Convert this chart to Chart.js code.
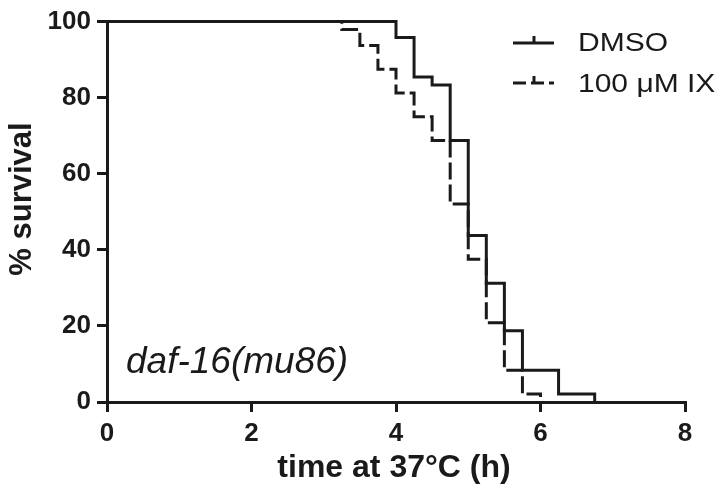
<!DOCTYPE html>
<html>
<head>
<meta charset="utf-8">
<script src="https://cdn.jsdelivr.net/npm/chart.js@4.4.1/dist/chart.umd.min.js"></script>
<style>
  html, body { margin: 0; padding: 0; background: #fff; }
  #wrap { width: 721px; height: 491px; }
</style>
</head>
<body>
<div id="wrap"><canvas id="c" width="721" height="491"></canvas></div>
<script>
// Kaplan-Meier survival at 37°C, daf-16(mu86) worms
const dmsoTimes    = [0, 4, 4.25, 4.5, 4.75, 5, 5.25, 5.5, 5.75, 6.25, 6.75];
const dmsoSurvival = [100, 95.83, 85.42, 83.33, 68.75, 43.75, 31.25, 18.75, 8.33, 2.08, 0];
const ixTimes      = [0, 3.25, 3.5, 3.75, 4, 4.25, 4.5, 4.75, 5, 5.25, 5.5, 5.75, 6];
const ixSurvival   = [100, 97.92, 93.75, 87.5, 81.25, 75, 68.75, 52.08, 37.5, 20.83, 8.33, 2.08, 0];
const seriesLabels = ['DMSO', '100 μM IX'];
const xTickValues  = [0, 2, 4, 6, 8];
const yTickValues  = [0, 20, 40, 60, 80, 100];
const xTitle = 'time at 37°C (h)';
const yTitle = '% survival';
const strainLabel = 'daf-16(mu86)';

const INK = '#1a1a1a';
const FONT = '"Liberation Sans", Arial, sans-serif';
const DASH = [17, 5];

const toPoints = (xs, ys) => xs.map((x, i) => ({ x, y: ys[i] }));

// Text and legend drawn on top of the plot
const decorations = {
  id: 'decorations',
  afterDraw(chart) {
    const ctx = chart.ctx;
    const area = chart.chartArea;
    ctx.save();
    ctx.fillStyle = INK;
    ctx.strokeStyle = INK;

    // axis titles
    ctx.font = 'bold 32px ' + FONT;
    ctx.textAlign = 'center';
    ctx.textBaseline = 'alphabetic';
    ctx.fillText(xTitle, (area.left + area.right) / 2 - 2, 477);

    ctx.save();
    ctx.translate(31, 199);
    ctx.rotate(-Math.PI / 2);
    ctx.font = 'bold 31px ' + FONT;
    ctx.fillText(yTitle, 0, 0);
    ctx.restore();

    // strain label
    ctx.font = 'italic 37px ' + FONT;
    ctx.textAlign = 'left';
    ctx.fillText(strainLabel, 126, 373);

    // legend
    const rows = [{ y: 43, dash: [], text: 51 }, { y: 83, dash: [13, 5], text: 92 }];
    ctx.lineWidth = 3;
    rows.forEach((r, i) => {
      ctx.setLineDash(r.dash);
      ctx.beginPath();
      ctx.moveTo(513, r.y);
      ctx.lineTo(554, r.y);
      ctx.stroke();
      ctx.setLineDash([]);
      ctx.beginPath();
      ctx.moveTo(534, r.y);
      ctx.lineTo(534, r.y - 7);
      ctx.stroke();
      ctx.save();
      ctx.translate(578, r.text);
      ctx.scale(1.2, 1);
      ctx.font = '25px ' + FONT;
      ctx.fillText(seriesLabels[i], 0, 0);
      ctx.restore();
    });
    ctx.restore();
  }
};

new Chart(document.getElementById('c'), {
  type: 'line',
  data: {
    datasets: [
      {
        label: seriesLabels[0],
        data: toPoints(dmsoTimes, dmsoSurvival),
        borderColor: INK,
        borderWidth: 3,
        stepped: 'before',
        pointRadius: 0,
        fill: false,
        clip: 6,
        order: 1
      },
      {
        label: seriesLabels[1],
        data: toPoints(ixTimes, ixSurvival),
        borderColor: INK,
        borderWidth: 3,
        borderDash: DASH,
        stepped: 'before',
        pointRadius: 0,
        fill: false,
        clip: 6,
        order: 2
      }
    ]
  },
  options: {
    responsive: false,
    animation: false,
    devicePixelRatio: 1,
    layout: { padding: { top: 17, right: 36, left: 0, bottom: 0 } },
    plugins: { legend: { display: false }, tooltip: { enabled: false } },
    scales: {
      x: {
        type: 'linear',
        min: 0,
        max: 8,
        afterBuildTicks: s => { s.ticks = xTickValues.map(v => ({ value: v })); },
        afterFit: s => { s.height = 89; },
        ticks: { color: INK, font: { family: FONT, size: 26, weight: 'bold' }, padding: 6, maxRotation: 0 },
        grid: { drawOnChartArea: false, drawTicks: true, tickLength: 10, lineWidth: 3, color: INK },
        border: { display: true, width: 3, color: INK }
      },
      y: {
        type: 'linear',
        min: 0,
        max: 100,
        afterBuildTicks: s => { s.ticks = yTickValues.map(v => ({ value: v })); },
        afterFit: s => { s.width = 107; },
        ticks: { color: INK, font: { family: FONT, size: 26, weight: 'bold' }, padding: 6 },
        grid: { drawOnChartArea: false, drawTicks: true, tickLength: 10, lineWidth: 3, color: INK },
        border: { display: true, width: 3, color: INK }
      }
    }
  },
  plugins: [decorations]
});
</script>
</body>
</html>
